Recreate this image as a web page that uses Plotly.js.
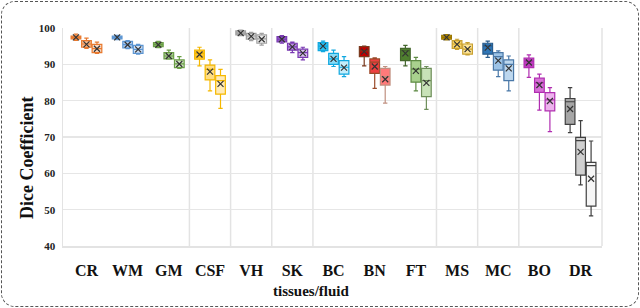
<!DOCTYPE html>
<html>
<head>
<meta charset="utf-8">
<script src="https://cdn.plot.ly/plotly-3.0.1.min.js"></script>
<style>
html,body{margin:0;padding:0;background:#fff;}
#wrap{position:relative;width:640px;height:308px;overflow:hidden;}
#chart{position:absolute;left:0;top:0;width:640px;height:308px;}
#frame{position:absolute;left:1px;top:1px;width:636px;height:304px;border:1px dashed #555;border-radius:14px;pointer-events:none;}
</style>
</head>
<body>
<div id="wrap"><div id="chart"></div><div id="frame"></div></div>
<script>
// Categories (tissues / fluid)
const categories = ["CR","WM","GM","CSF","VH","SK","BC","BN","FT","MS","MC","BO","DR"];

// Three variants per category: [variant1, variant2, variant3] per category
const lowerFence = [
  [96.6,94.4,93.0],[96.8,94.3,92.8],[94.6,91.4,88.9],[89.6,82.7,77.9],[97.9,96.5,95.3],
  [95.8,93.2,91.2],[93.5,89.4,86.6],[89.6,83.4,79.3],[89.6,82.7,77.6],[96.7,94.1,92.6],
  [91.9,86.6,82.7],[86.4,77.4,71.5],[71.2,56.8,48.3]
];
const q1Values = [
  [97.0,94.7,93.2],[97.0,94.5,93.0],[94.9,91.5,89.1],[91.4,85.7,81.8],[98.1,96.9,95.8],
  [96.2,93.9,91.9],[93.8,90.0,87.3],[92.1,87.5,84.3],[91.0,85.1,81.1],[96.9,94.4,92.8],
  [92.8,88.4,85.5],[89.1,82.3,77.2],[73.5,59.5,51.0]
];
const medianValues = [
  [97.4,95.6,94.3],[97.4,95.4,94.1],[95.4,92.3,90.1],[93.0,88.6,85.5],[98.6,97.8,97.0],
  [96.9,94.8,93.2],[95.0,91.5,89.2],[93.7,90.6,86.6],[93.8,88.7,85.5],[97.4,95.6,94.2],
  [95.1,92.1,90.0],[90.9,84.9,80.2],[79.7,69.0,62.1]
];
const q3Values = [
  [97.8,96.5,95.5],[97.8,96.3,95.2],[96.0,93.2,91.2],[93.9,89.8,86.9],[99.2,98.5,98.1],
  [97.6,95.8,94.2],[96.0,93.0,91.0],[94.9,91.5,88.9],[94.4,91.0,88.9],[98.0,96.5,95.6],
  [95.8,93.2,91.2],[91.7,86.2,82.2],[80.6,69.9,63.0]
];
const upperFence = [
  [98.3,97.2,96.1],[98.0,96.5,95.5],[96.3,93.9,92.1],[94.7,91.2,88.6],[99.4,98.8,98.5],
  [97.9,96.1,94.7],[96.4,93.9,92.1],[95.0,91.8,89.4],[95.2,91.9,89.4],[98.2,96.9,96.0],
  [96.4,93.7,92.3],[92.6,87.3,83.6],[83.6,74.5,68.9]
];
const meanValues = [
  [97.4,95.5,94.3],[97.4,95.4,94.1],[95.4,92.3,90.1],[92.7,88.0,84.6],[98.6,97.7,96.9],
  [96.9,94.8,93.1],[95.0,91.5,89.1],[93.5,89.4,85.9],[93.0,88.2,84.9],[97.4,95.5,94.2],
  [94.6,91.0,88.9],[90.5,84.3,79.9],[77.7,65.9,58.5]
];

// Styles
const fillColors = [
  ["#F39A5E","#F7BE96","#FAD8C0"],
  ["#86B3E6","#AECBEF","#D0E1F6"],
  ["#88B56A","#AFCF9A","#D2E5C5"],
  ["#FFC629","#FFDD80","#FFEBB8"],
  ["#B5B5B5","#D3D3D3","#EAEAEA"],
  ["#9556CC","#BB90E0","#D8C0EE"],
  ["#2EC2F4","#88DCF8","#C3EDFB"],
  ["#C00000","#EE4040","#FF7A7A"],
  ["#4F7F2F","#A9D18E","#C8E2B8"],
  ["#BF9000","#FFD966","#FFE699"],
  ["#2E75B6","#9DC3E6","#BDD7EE"],
  ["#C03CC0","#D770D7","#EDB2ED"],
  ["#A6A6A6","#D0D0D0","#F6F6F6"]
];
const lineColors = [
  ["#E8792E","#E8792E","#E8792E"],
  ["#5B95D2","#5B95D2","#5B95D2"],
  ["#6A9E45","#6A9E45","#6A9E45"],
  ["#F5B800","#F5B800","#F5B800"],
  ["#A0A0A0","#A0A0A0","#A0A0A0"],
  ["#7A3AB3","#7A3AB3","#7A3AB3"],
  ["#10A8E0","#10A8E0","#10A8E0"],
  ["#7A3A1E","#9A4A2A","#C09080"],
  ["#44662C","#5E8A44","#6E8E5A"],
  ["#9A7600","#C8A030","#C8A030"],
  ["#2A5C8C","#4A78A8","#4A78A8"],
  ["#B02EB0","#B02EB0","#B02EB0"],
  ["#404040","#404040","#404040"]
];
const offsets = [-0.255, 0, 0.255];

const traces = [];
categories.forEach((c, i) => {
  for (let k = 0; k < 3; k++) {
    traces.push({
      type: "box",
      x: [i + offsets[k]],
      q1: [q1Values[i][k]],
      median: [medianValues[i][k]],
      q3: [q3Values[i][k]],
      lowerfence: [lowerFence[i][k]],
      upperfence: [upperFence[i][k]],
      width: 0.235,
      whiskerwidth: 0.45,
      fillcolor: fillColors[i][k],
      line: {color: lineColors[i][k], width: 1.2},
      boxpoints: false,
      showlegend: false,
      hoverinfo: "skip"
    });
  }
});
// mean markers
const mx = [], my = [];
categories.forEach((c, i) => {
  for (let k = 0; k < 3; k++) { mx.push(i + offsets[k]); my.push(meanValues[i][k]); }
});
traces.push({
  type: "scatter", mode: "markers", x: mx, y: my,
  marker: {symbol: "x-thin", size: 6, line: {color: "#333", width: 1.2}, color: "#333"},
  showlegend: false, hoverinfo: "skip"
});

const sepAt = [2.5, 3.5, 4.5, 5.5, 8.5, 9.5, 10.5];
const shapes = sepAt.map(v => ({
  type: "line", xref: "x", yref: "paper", x0: v, x1: v, y0: 0, y1: 1,
  line: {color: "#e3e3e3", width: 1.5}, layer: "below"
}));
shapes.push({type: "line", xref: "paper", yref: "paper", x0: 1, x1: 1, y0: 0, y1: 1,
  line: {color: "#e3e3e3", width: 1.5}, layer: "below"});

const layout = {
  width: 640, height: 308,
  margin: {l: 63, r: 38, t: 28, b: 62},
  paper_bgcolor: "rgba(0,0,0,0)",
  plot_bgcolor: "#fff",
  showlegend: false,
  font: {family: "Liberation Serif, Times New Roman, serif", color: "#111"},
  xaxis: {
    range: [-0.57, 12.52],
    tickvals: categories.map((c, i) => i),
    ticktext: categories,
    tickfont: {size: 16, family: "Liberation Serif", weight: "bold", color: "#111"},
    showgrid: false, zeroline: false,
    showline: true, linecolor: "#e3e3e3", linewidth: 1.5,
    ticks: "", ticklabelstandoff: 9
  },
  yaxis: {
    range: [40, 100], dtick: 10,
    tickfont: {size: 11, family: "Liberation Serif", weight: "bold", color: "#222"},
    showgrid: true, gridcolor: "#e6e6e6", gridwidth: 1.5,
    zeroline: false, showline: true, linecolor: "#e3e3e3", linewidth: 1.5,
    ticks: "", ticklabelstandoff: 4
  },
  annotations: [
    {text: "<b>tissues/fluid</b>", xref: "paper", yref: "paper",
     x: (311 - 63) / 539, y: -0.205, xanchor: "center", yanchor: "middle",
     showarrow: false, font: {size: 15, family: "Liberation Serif", color: "#111"}},
    {text: "<b>Dice Coefficient</b>", xref: "paper", yref: "paper",
     x: (27 - 63) / 539, y: (246 - 158) / 218, xanchor: "center", yanchor: "middle",
     textangle: -90, showarrow: false, font: {size: 18, family: "Liberation Serif", color: "#111"}}
  ],
  shapes: shapes
};
Plotly.newPlot("chart", traces, layout, {staticPlot: true, displayModeBar: false});
</script>
</body>
</html>
